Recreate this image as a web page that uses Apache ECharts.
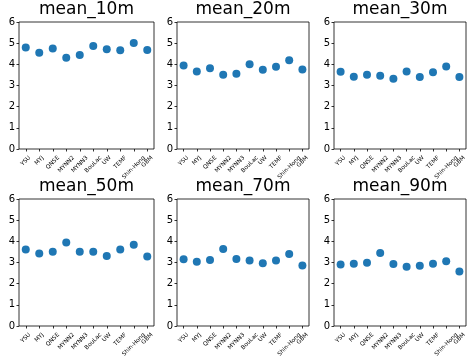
<!DOCTYPE html>
<html>
<head>
<meta charset="utf-8">
<script src="https://cdn.jsdelivr.net/npm/echarts@6/dist/echarts.min.js"></script>
<style>
  html, body { margin: 0; padding: 0; background: #fff; }
  #chart { width: 472px; height: 360px; }
</style>
</head>
<body>
<div id="chart"></div>
<script>
// model schemes along the x axis
const schemes = ["YSU", "MYJ", "QNSE", "MYNN2", "MYNN3", "BouLac", "UW", "TEMF", "Shin-Hong", "GBM"];

const titles = ["mean_10m", "mean_20m", "mean_30m", "mean_50m", "mean_70m", "mean_90m"];

// mean values per height
const mean10 = [4.79, 4.55, 4.75, 4.31, 4.44, 4.87, 4.71, 4.66, 5.01, 4.68];
const mean20 = [3.95, 3.66, 3.82, 3.51, 3.55, 4.00, 3.74, 3.88, 4.19, 3.76];
const mean30 = [3.65, 3.41, 3.51, 3.46, 3.32, 3.66, 3.40, 3.63, 3.90, 3.40];
const mean50 = [3.61, 3.43, 3.51, 3.94, 3.51, 3.51, 3.31, 3.62, 3.84, 3.28];
const mean70 = [3.15, 3.04, 3.12, 3.64, 3.16, 3.09, 2.97, 3.10, 3.40, 2.86];
const mean90 = [2.90, 2.94, 2.99, 3.45, 2.93, 2.80, 2.85, 2.94, 3.06, 2.58];

const allSeries = [mean10, mean20, mean30, mean50, mean70, mean90];

// panel boxes (px), matplotlib-like 2x3 layout
const LEFTS = [19, 177, 334];
const WIDTHS = [135, 132, 132];
const TOPS = [22, 199];
const H = 127;

const FONT = "DejaVu Sans";
const BLUE = "#1f77b4";
const XFS = 5.8;   // x tick label size

// matplotlib rotates the labels 45deg and centres the rotated box under the tick.
// ECharts rotates around the anchor, so pad each label (top + right) to push it
// down until its box top sits just under the axis, like matplotlib does.
const measure = document.createElement("canvas").getContext("2d");
measure.font = XFS + "px '" + FONT + "'";
const rich = {};
schemes.forEach((s, i) => {
  const L = measure.measureText(s).width;
  const p = (L + XFS * 1.17) / 2;
  rich["s" + i] = { fontFamily: FONT, fontSize: XFS, color: "#000", padding: [p, p, 0, 0] };
});

const grids = [], xAxes = [], yAxes = [], series = [], titleOpts = [];

allSeries.forEach((vals, k) => {
  const col = k % 3, row = Math.floor(k / 3);
  grids.push({
    left: LEFTS[col], top: TOPS[row], width: WIDTHS[col], height: H,
    show: true, borderColor: "#000", borderWidth: 0.8, backgroundColor: "transparent"
  });

  titleOpts.push({
    text: titles[k],
    left: LEFTS[col] + WIDTHS[col] / 2,
    top: row === 0 ? 1 : 178,
    textAlign: "center",
    padding: 0,
    textStyle: { fontFamily: FONT, fontSize: 17, fontWeight: "normal", color: "#000" }
  });

  xAxes.push({
    gridIndex: k,
    type: "category",
    data: schemes,
    boundaryGap: true,
    axisLine: { show: false },
    splitLine: { show: false },
    axisTick: { show: true, interval: 0, alignWithLabel: true, length: 2.5, lineStyle: { color: "#000", width: 0.8 } },
    axisLabel: {
      interval: 0,
      rotate: 45,
      align: "center",
      verticalAlign: "middle",
      margin: 5.5,
      hideOverlap: false,
      fontFamily: FONT,
      fontSize: XFS,
      color: "#000",
      formatter: (v, i) => "{s" + i + "|" + v + "}",
      rich: rich
    }
  });

  yAxes.push({
    gridIndex: k,
    type: "value",
    min: 0,
    max: 6,
    interval: 1,
    axisLine: { show: false },
    splitLine: { show: false },
    axisTick: { show: true, length: 2.5, lineStyle: { color: "#000", width: 0.8 } },
    axisLabel: { margin: 4, fontFamily: FONT, fontSize: 10, color: "#000" }
  });

  series.push({
    type: "scatter",
    xAxisIndex: k,
    yAxisIndex: k,
    symbol: "circle",
    symbolSize: 8,
    itemStyle: { color: BLUE, opacity: 1 },
    data: vals
  });
});

const chart = echarts.init(document.getElementById("chart"), null, { renderer: "canvas" });
chart.setOption({
  animation: false,
  backgroundColor: "#fff",
  title: titleOpts,
  grid: grids,
  xAxis: xAxes,
  yAxis: yAxes,
  series: series
});
</script>
</body>
</html>
